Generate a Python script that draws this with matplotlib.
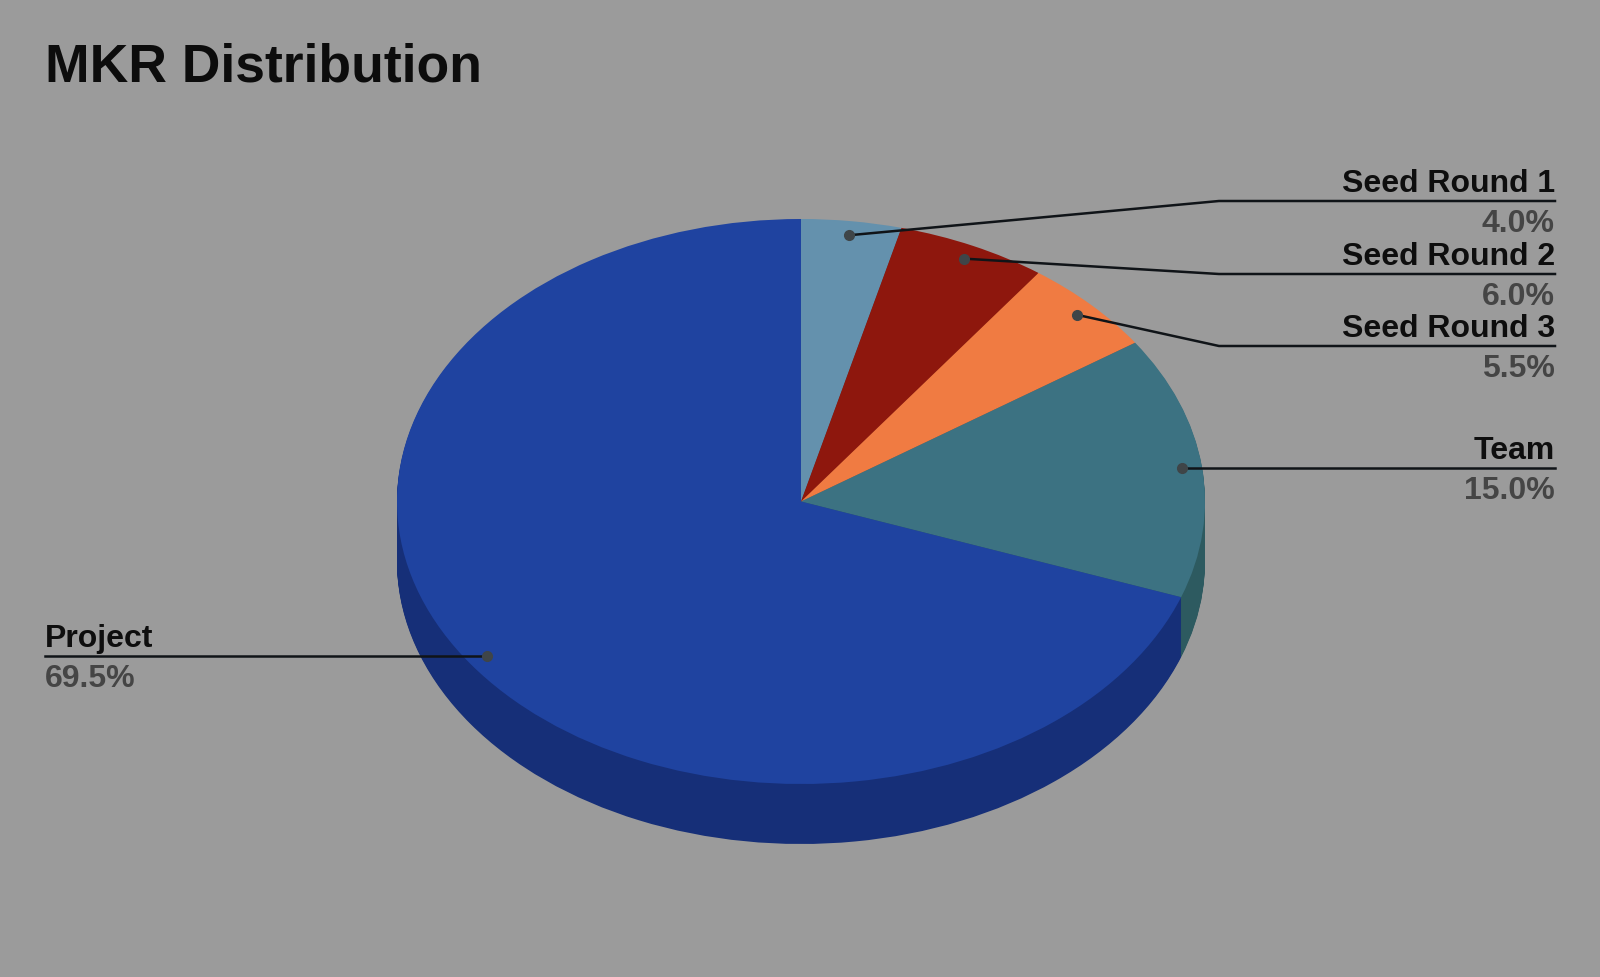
import numpy as np
import matplotlib
matplotlib.use("Agg")
import matplotlib.pyplot as plt

labels = ["Seed Round 1", "Seed Round 2", "Seed Round 3", "Team", "Project"]
values = [4.0, 6.0, 5.5, 15.0, 69.5]
value_labels = ["4.0%", "6.0%", "5.5%", "15.0%", "69.5%"]
top_colors = ["#6491ad", "#8e170d", "#f07b42", "#3c7282", "#1f43a0"]
side_colors = ["#4a6c80", "#69110a", "#b25b31", "#2d5a60", "#162f78"]
bg = "#9b9b9b"

# pie geometry in pixels
cx, cy = 801, 501.5
rx, ry = 404, 282.5
depth = 60

plt.rcParams["font.family"] = ["Liberation Sans", "DejaVu Sans"]

fig = plt.figure(figsize=(16, 9.77), dpi=100, facecolor=bg)

# pie axes: 1 unit = the ellipse radius, so the circle gets squashed
ax = fig.add_axes([0, 0, 1, 1])
for off in range(depth, 0, -1):
    ax.pie(values, colors=side_colors, startangle=90, counterclock=False,
           center=(0, -off / ry), radius=1, frame=False)
ax.pie(values, colors=top_colors, startangle=90, counterclock=False, radius=1)
ax.set_aspect("auto")
ax.set_xlim(-cx / rx, (1600 - cx) / rx)
ax.set_ylim(-(977 - cy) / ry, cy / ry)
ax.axis("off")

# overlay in pixel coordinates for title, leaders and labels
ov = fig.add_axes([0, 0, 1, 1])
ov.set_xlim(0, 1600)
ov.set_ylim(977, 0)
ov.axis("off")
ov.patch.set_alpha(0)

ov.text(45, 68, "MKR Distribution", fontsize=38.5, fontweight="bold",
        color="#0c0c0c", ha="left", va="center")

line_y = [201, 274, 346, 467, 656]
left_x, right_x = 45, 1555
knee_x = 1219

start = 0
for name, val, txt, ly in zip(labels, values, value_labels, line_y):
    mid = np.radians((start + val / 2) * 3.6)
    start += val
    px = cx + 0.95 * rx * np.sin(mid)
    py = cy - 0.95 * ry * np.cos(mid)
    ov.plot(px, py, "o", ms=7, color="#3f4548", zorder=5)
    if px > cx:
        # Team sits level with its label so the knee does nothing there
        ly = ly if name != "Team" else py
        ov.plot([px, knee_x, right_x], [py, ly, ly], color="#101418", lw=1.8, zorder=4)
        tx, ha = 1555, "right"
    else:
        ly = py
        ov.plot([px, left_x], [py, ly], color="#101418", lw=1.8, zorder=4)
        tx, ha = left_x, "left"
    ov.text(tx, ly - 17, name, fontsize=23, fontweight="bold", color="#0e0e0e",
            ha=ha, va="center")
    ov.text(tx, ly + 23, txt, fontsize=23, fontweight="bold", color="#454545",
            ha=ha, va="center")

fig.savefig("out.png", dpi=100, facecolor=bg)
